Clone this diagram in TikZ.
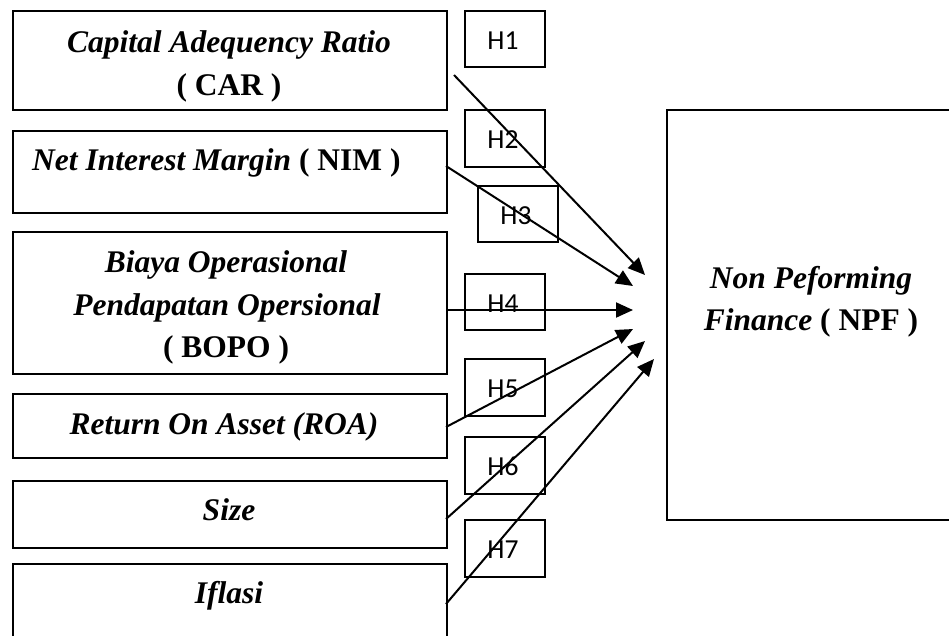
\documentclass[tikz,border=0pt]{standalone}
\usepackage{fontspec}
\setmainfont{Liberation Serif}
\newfontfamily\hfont{Carlito}
\usetikzlibrary{arrows.meta}

\begin{document}
\begin{tikzpicture}[x=1pt,y=-1pt,
  box/.style={draw, line width=2pt, fill=white, inner sep=0pt, anchor=north west, minimum width=434pt},
  hbox/.style={draw, line width=1.8pt, fill=white, inner sep=0pt, anchor=north west, minimum width=80pt, minimum height=57pt},
  vtxt/.style={font=\fontsize{31.5}{43}\selectfont\bfseries, anchor=base, inner sep=0pt},
  htxt/.style={font=\hfont\fontsize{27.5}{32}\selectfont, anchor=base, inner sep=0pt},
  link/.style={line width=2pt, -{Triangle[length=17pt,width=15pt]}}
]
\useasboundingbox (0,0) rectangle (949,635);
\clip (0,0) rectangle (949,635);

% independent variables
\node[box, minimum height=99pt]  (car)  at (12,10)  {};
\node[box, minimum height=82pt]  (nim)  at (12,130) {};
\node[box, minimum height=142pt] (bopo) at (12,231) {};
\node[box, minimum height=64pt]  (roa)  at (12,393) {};
\node[box, minimum height=67pt]  (size) at (12,480) {};
\node[box, minimum height=100pt] (infl) at (12,563) {};

\node[vtxt] (car1) at (229,52) {\itshape Capital Adequency Ratio};
\node[vtxt] (car2) at (229,95) {( CAR )};
\node[vtxt, anchor=base west] (nim1) at (32,170) {\textit{Net Interest Margin} ( NIM )};
\node[vtxt] (bopo1) at (226,272) {\itshape Biaya Operasional};
\node[vtxt] (bopo2) at (227,315) {\itshape Pendapatan Opersional};
\node[vtxt] (bopo3) at (226,357) {( BOPO )};
\node[vtxt] (roa1) at (224,434) {\itshape Return On Asset (ROA)};
\node[vtxt] (size1) at (229,520) {\itshape Size};
\node[vtxt] (infl1) at (229,603) {\itshape Iflasi};

% dependent variable
\node[box, minimum width=290pt, minimum height=410pt] (npf) at (666,109) {};
\node[vtxt] (npf1) at (811,288) {\itshape Non Peforming};
\node[vtxt] (npf2) at (811,330) {\textit{Finance} ( NPF )};

% hypothesis labels
\node[hbox, minimum height=56pt] (h1) at (464,10)  {};
\node[hbox] (h2) at (464,109) {};
\node[hbox, minimum height=56pt] (h3) at (477,185) {};
\node[hbox, minimum height=56pt] (h4) at (464,273) {};
\node[hbox] (h5) at (464,358) {};
\node[hbox] (h6) at (464,436) {};
\node[hbox] (h7) at (464,519) {};
\node[htxt] (h1t) at (503,49)  {H1};
\node[htxt] (h2t) at (503,148) {H2};
\node[htxt] (h3t) at (516,224) {H3};
\node[htxt] (h4t) at (503,312) {H4};
\node[htxt] (h5t) at (503,397) {H5};
\node[htxt] (h6t) at (503,475) {H6};
\node[htxt] (h7t) at (503,558) {H7};

% arrow ends
\coordinate (s1) at (454,75);  \coordinate (t1) at (645,275);
\coordinate (s2) at (446,166); \coordinate (t2) at (633,286);
\coordinate (s4) at (446,310); \coordinate (t4) at (633,310);
\coordinate (s5) at (446,427); \coordinate (t5) at (633,329);
\coordinate (s6) at (446,519); \coordinate (t6) at (645,341);
\coordinate (s7) at (446,604); \coordinate (t7) at (654,359);

\draw[link] (s1) -- (t1);
\draw[link] (s2) -- (t2);
\draw[link] (s4) -- (t4);
\draw[link] (s5) -- (t5);
\draw[link] (s6) -- (t6);
\draw[link] (s7) -- (t7);
\end{tikzpicture}
\end{document}
